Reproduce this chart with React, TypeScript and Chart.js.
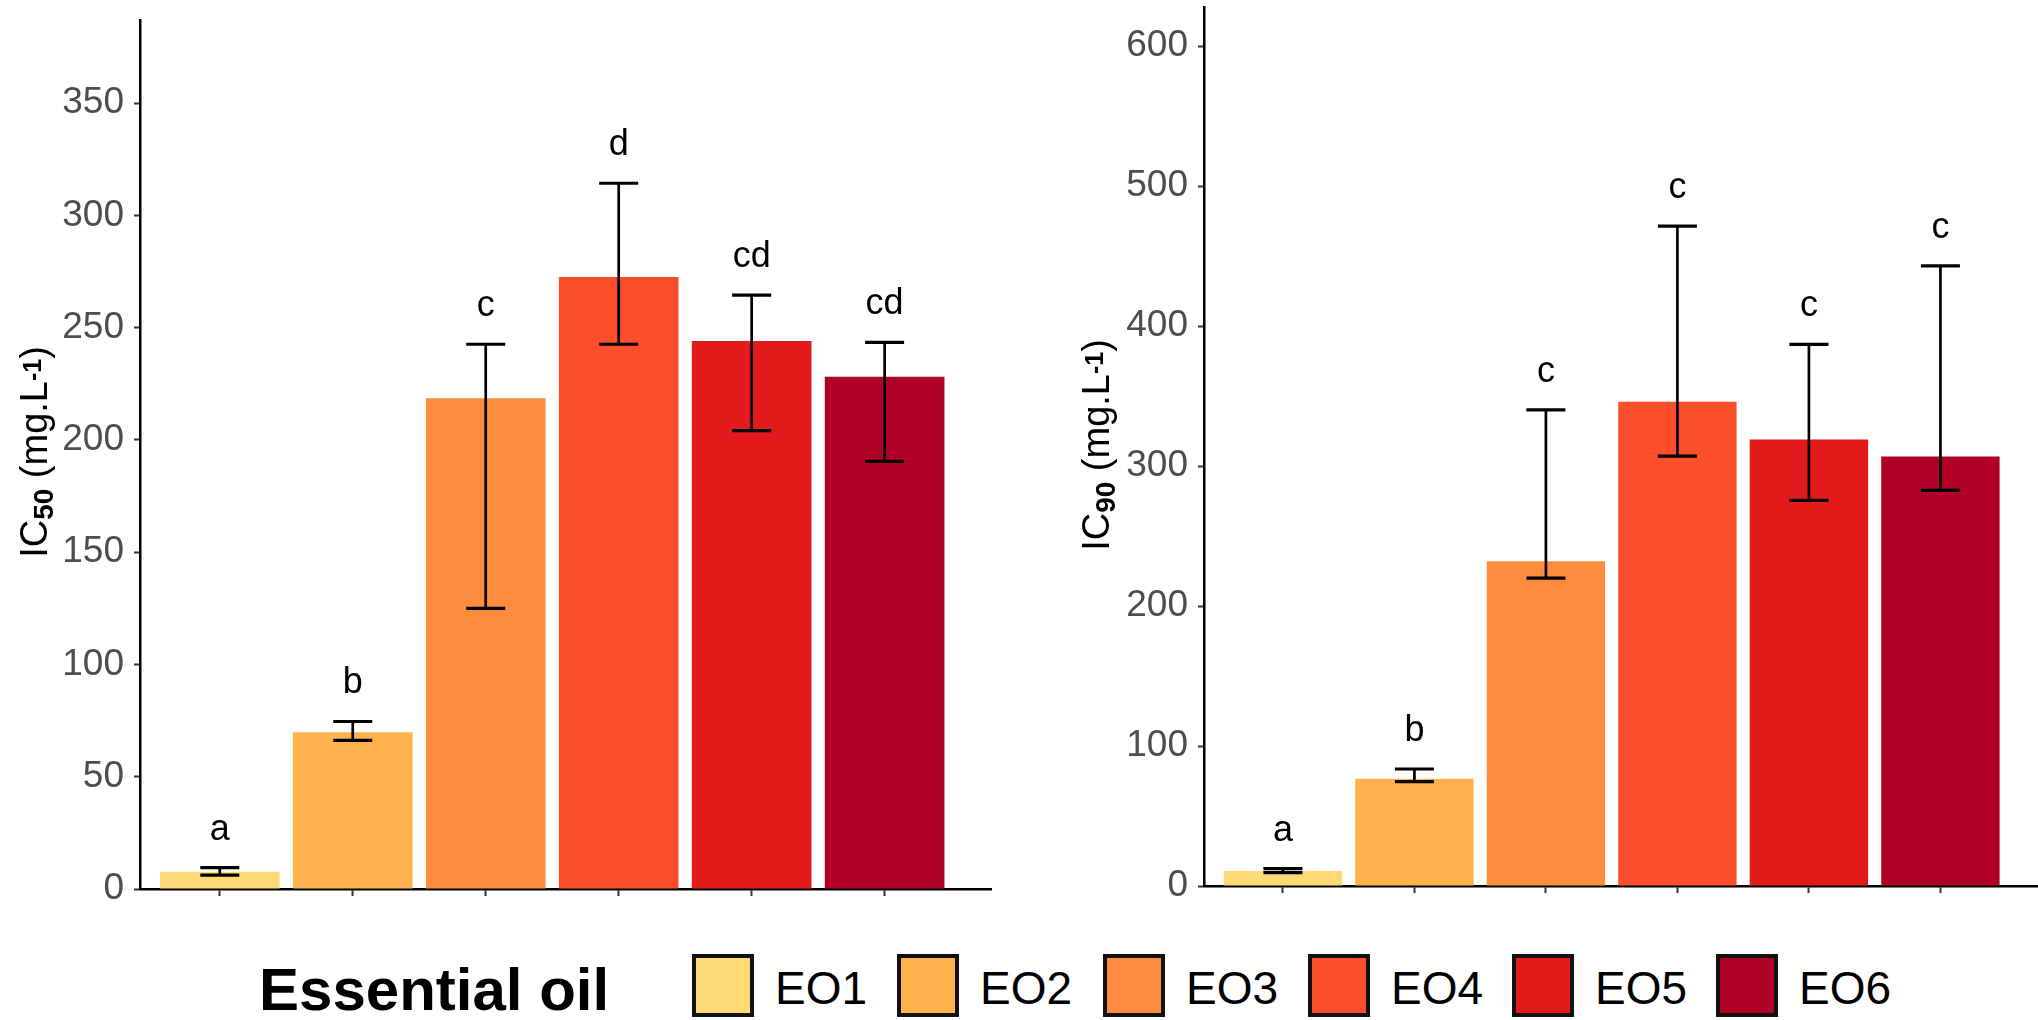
import React, { useEffect, useRef } from 'react';
import { Chart, registerables } from 'chart.js';

Chart.register(...registerables);

const categories = ['EO1', 'EO2', 'EO3', 'EO4', 'EO5', 'EO6'];
const barColors = ['#FED976', '#FEB24C', '#FD8D3C', '#FC4E2A', '#E31A1C', '#B10026'];

const ic50Mean = [7.7, 69.8, 218.5, 272.6, 244.1, 228.1];
const ic50Lower = [6.2, 66.2, 125.0, 242.6, 204.1, 190.4];
const ic50Upper = [9.5, 74.6, 242.6, 314.3, 264.5, 243.4];
const ic50Letters = ['a', 'b', 'c', 'd', 'cd', 'cd'];
const ic50Ticks = [0, 50, 100, 150, 200, 250, 300, 350];

const ic90Mean = [10.7, 76.7, 232.1, 345.9, 319.0, 306.9];
const ic90Lower = [9.5, 74.5, 220.0, 307.1, 275.5, 282.6];
const ic90Upper = [12.4, 83.6, 340.2, 471.4, 386.9, 443.1];
const ic90Letters = ['a', 'b', 'c', 'c', 'c', 'c'];
const ic90Ticks = [0, 100, 200, 300, 400, 500, 600];

const legendTitle = 'Essential oil';

const FONT = '"Liberation Sans", Arial, Helvetica, sans-serif';

type Spec = {
  mean: number[];
  lower: number[];
  upper: number[];
  letters: string[];
  ticks: number[];
  yMax: number;
  xMax: number;
  sub: string;
  padding: { top: number; left: number; right: number; bottom: number };
  yAxisWidth: number;
  titleX: number;
  titleY: number;
};

function makeChart(canvas: HTMLCanvasElement, spec: Spec) {
  const errorPlugin = {
    id: 'errorBarsAndLetters',
    afterDatasetsDraw(chart: any) {
      const ctx = chart.ctx;
      const xs = chart.scales.x;
      const ys = chart.scales.y;
      ctx.save();
      ctx.strokeStyle = '#000';
      ctx.fillStyle = '#000';
      spec.mean.forEach((_, i) => {
        const x = xs.getPixelForValue(i + 1);
        const yHi = ys.getPixelForValue(spec.upper[i]);
        const yLo = ys.getPixelForValue(spec.lower[i]);
        ctx.lineWidth = 2.7;
        ctx.beginPath();
        ctx.moveTo(x, yHi);
        ctx.lineTo(x, yLo);
        ctx.stroke();
        ctx.lineWidth = 3.2;
        ctx.beginPath();
        ctx.moveTo(x - 19.5, yHi);
        ctx.lineTo(x + 19.5, yHi);
        ctx.moveTo(x - 19.5, yLo);
        ctx.lineTo(x + 19.5, yLo);
        ctx.stroke();
        ctx.font = `36px ${FONT}`;
        ctx.textAlign = 'center';
        ctx.textBaseline = 'alphabetic';
        ctx.fillText(spec.letters[i], x, yHi - 28);
      });
      ctx.restore();
    },
  };

  const titlePlugin = {
    id: 'yTitle',
    afterDraw(chart: any) {
      const ctx = chart.ctx;
      const segs = [
        { t: 'IC', size: 38, bold: false, dy: 0 },
        { t: spec.sub, size: 28, bold: true, dy: 6 },
        { t: ' (mg.L', size: 38, bold: false, dy: 0 },
        { t: '-1', size: 25, bold: true, dy: -6 },
        { t: ')', size: 38, bold: false, dy: 0 },
      ];
      ctx.save();
      ctx.fillStyle = '#000';
      ctx.textBaseline = 'alphabetic';
      ctx.textAlign = 'left';
      let total = 0;
      const widths = segs.map((s) => {
        ctx.font = `${s.bold ? 'bold ' : ''}${s.size}px ${FONT}`;
        const w = ctx.measureText(s.t).width;
        total += w;
        return w;
      });
      ctx.translate(spec.titleX, spec.titleY);
      ctx.rotate(-Math.PI / 2);
      let x = -total / 2;
      segs.forEach((s, i) => {
        ctx.font = `${s.bold ? 'bold ' : ''}${s.size}px ${FONT}`;
        ctx.fillText(s.t, x, s.dy);
        x += widths[i];
      });
      ctx.restore();
    },
  };

  return new Chart(canvas, {
    type: 'bar',
    data: {
      datasets: [
        {
          data: categories.map((c, i) => ({ x: i + 1, y: spec.mean[i] })),
          backgroundColor: barColors,
          borderWidth: 0,
          barPercentage: 0.9,
          categoryPercentage: 1,
        } as any,
      ],
    },
    options: {
      responsive: false,
      animation: false,
      layout: { padding: spec.padding },
      plugins: { legend: { display: false }, tooltip: { enabled: false } },
      scales: {
        x: {
          type: 'linear',
          offset: false,
          min: 0.4,
          max: spec.xMax,
          afterBuildTicks: (s: any) => {
            s.ticks = categories.map((c, i) => ({ value: i + 1 }));
          },
          afterFit: (s: any) => {
            s.height = 10;
            s.paddingLeft = 0;
            s.paddingRight = 0;
            s.paddingTop = 0;
            s.paddingBottom = 0;
          },
          ticks: { display: false },
          grid: {
            display: true,
            offset: false,
            drawOnChartArea: false,
            drawTicks: true,
            tickLength: 7,
            tickColor: '#333333',
            tickWidth: 2,
          },
          border: { display: true, color: '#000', width: 2.5 },
        },
        y: {
          type: 'linear',
          min: 0,
          max: spec.yMax,
          afterBuildTicks: (s: any) => {
            s.ticks = spec.ticks.map((v) => ({ value: v }));
          },
          afterFit: (s: any) => {
            s.width = spec.yAxisWidth;
            s.paddingTop = 0;
            s.paddingBottom = 0;
            s.paddingLeft = 0;
            s.paddingRight = 0;
          },
          ticks: {
            color: '#4D4D4D',
            font: { family: FONT, size: 37, lineHeight: 1 },
            padding: 10,
          },
          grid: {
            display: true,
            drawOnChartArea: false,
            drawTicks: true,
            tickLength: 6,
            tickColor: '#333333',
            tickWidth: 2,
          },
          border: { display: true, color: '#000', width: 2.5 },
        },
      },
    } as any,
    plugins: [errorPlugin, titlePlugin],
  });
}

const legendBoxLefts = [692, 897, 1103, 1308, 1512, 1716];

export default function App() {
  const leftRef = useRef<HTMLCanvasElement>(null);
  const rightRef = useRef<HTMLCanvasElement>(null);

  useEffect(() => {
    const c1 = makeChart(leftRef.current!, {
      mean: ic50Mean,
      lower: ic50Lower,
      upper: ic50Upper,
      letters: ic50Letters,
      ticks: ic50Ticks,
      yMax: 387,
      xMax: 6.8,
      sub: '50',
      padding: { top: 20, left: 0, right: 9, bottom: 31 },
      yAxisWidth: 140,
      titleX: 47,
      titleY: 452,
    });
    const c2 = makeChart(rightRef.current!, {
      mean: ic90Mean,
      lower: ic90Lower,
      upper: ic90Upper,
      letters: ic90Letters,
      ticks: ic90Ticks,
      yMax: 628,
      xMax: 6.742,
      sub: '90',
      padding: { top: 7, left: 0, right: 0, bottom: 34 },
      yAxisWidth: 204,
      titleX: 109,
      titleY: 445,
    });
    return () => {
      c1.destroy();
      c2.destroy();
    };
  }, []);

  return (
    <div
      style={{
        position: 'absolute',
        left: 0,
        top: 0,
        width: 2038,
        height: 1020,
        background: '#fff',
        overflow: 'hidden',
        fontFamily: FONT,
      }}
    >
      <canvas
        ref={leftRef}
        width={1000}
        height={930}
        style={{ position: 'absolute', left: 0, top: 0, display: 'block' }}
      />
      <canvas
        ref={rightRef}
        width={1038}
        height={930}
        style={{ position: 'absolute', left: 1000, top: 0, display: 'block' }}
      />
      <div
        style={{
          position: 'absolute',
          left: 259,
          top: 960,
          fontSize: 60,
          lineHeight: 1,
          fontWeight: 'bold',
          color: '#000',
          whiteSpace: 'nowrap',
        }}
      >
        {legendTitle}
      </div>
      {categories.map((c, i) => (
        <React.Fragment key={c}>
          <div
            style={{
              position: 'absolute',
              left: legendBoxLefts[i],
              top: 954,
              width: 62,
              height: 63,
              boxSizing: 'border-box',
              border: '4px solid #111',
              background: barColors[i],
            }}
          />
          <div
            style={{
              position: 'absolute',
              left: legendBoxLefts[i] + 83,
              top: 965,
              fontSize: 46,
              lineHeight: 1,
              color: '#000',
              whiteSpace: 'nowrap',
            }}
          >
            {c}
          </div>
        </React.Fragment>
      ))}
    </div>
  );
}
